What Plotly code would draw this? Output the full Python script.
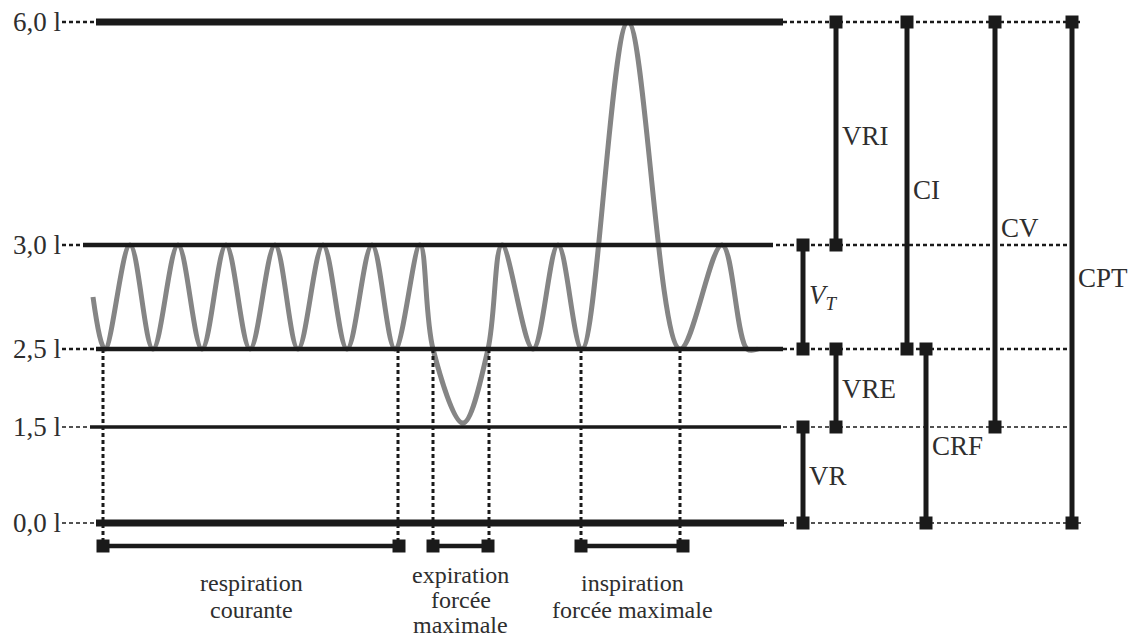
"""Spirogramme : volumes et capacités pulmonaires."""

import numpy as np
import plotly.graph_objects as go

# lung volume levels (litres) and their tick labels
LEVELS = [0.0, 1.5, 2.5, 3.0, 6.0]
LEVEL_LABELS = ["0,0 l", "1,5 l", "2,5 l", "3,0 l", "6,0 l"]
# the drawing is schematic, not to scale: drawn height of each level
LEVEL_DRAWN = [0, 96, 174, 278, 501]

# spirogram trace (time in arbitrary units, volume in l)
WAVE_T = [93, 105, 130, 153, 178, 202, 226, 250, 275, 298, 323, 347, 372, 395,
          420, 433, 463, 488, 502, 533, 558, 582, 628, 680, 722, 747, 758]
WAVE_V = [2.75, 2.5, 3.0, 2.5, 3.0, 2.5, 3.0, 2.5, 3.0, 2.5, 3.0, 2.5, 3.0, 2.5,
          3.0, 2.5, 1.55, 2.5, 3.0, 2.5, 3.0, 2.5, 6.0, 2.5, 3.0, 2.5, 2.5]

# manoeuvres marked under the trace
PHASES = ["respiration\ncourante", "expiration\nforcée\nmaximale",
          "inspiration\nforcée maximale"]
PHASE_START = [103, 433, 581]
PHASE_END = [399, 488, 683]
# times where the trace sits on 2,5 l (dotted guides)
GUIDE_T = [103, 398, 433, 489, 581, 680]

# volumes and capacities
MEASURES = ["VRI", "CI", "CV", "CPT", "<i>V<sub>T</sub></i>", "VRE", "VR", "CRF"]
MEASURE_LOW = [3.0, 2.5, 1.5, 0.0, 2.5, 1.5, 0.0, 0.0]
MEASURE_HIGH = [6.0, 6.0, 6.0, 6.0, 3.0, 2.5, 1.5, 2.5]

INK = "#1a1a1a"
GREY = "#858585"
TEXT = "#2e2e2e"
SERIF = "Liberation Serif, Times New Roman, serif"

# drawing extents of each level line: solid start, solid end, dashed end
LINE_SPAN = [(96, 784, 1082), (90, 781, 1072), (96, 783, 1070),
             (83, 773, 1070), (96, 783, 1080)]
LINE_WIDTH = [7, 3.5, 4.5, 4.5, 7]
DASH_WIDTH = [1.5, 1.5, 2.5, 2.5, 2.5]
BAR_X = [836, 907, 995, 1072, 803, 836, 803, 926]
LABEL_DY = [-2, -4, -3, -5, 0, -1, -1, -10]
BRACKET_Y = -23


def vpos(v):
    return np.interp(v, LEVELS, LEVEL_DRAWN)


fig = go.Figure()

# dashed leaders / extensions, then the grey trace, then solid level lines
for lvl, (a, b, c), dw in zip(LEVELS, LINE_SPAN, DASH_WIDTH):
    y = float(vpos(lvl))
    fig.add_trace(go.Scatter(
        x=[62, c], y=[y, y], mode="lines",
        line=dict(color=INK, width=dw, dash="4px,3px"),
    ))

fig.add_trace(go.Scatter(
    x=WAVE_T, y=vpos(WAVE_V), mode="lines",
    line=dict(color=GREY, width=5, shape="spline"),
))

for lvl, (a, b, c), w in zip(LEVELS, LINE_SPAN, LINE_WIDTH):
    y = float(vpos(lvl))
    fig.add_trace(go.Scatter(
        x=[a, b], y=[y, y], mode="lines", line=dict(color=INK, width=w),
    ))

# dotted guides down to the manoeuvre brackets
for t in GUIDE_T:
    fig.add_trace(go.Scatter(
        x=[t, t], y=[float(vpos(2.5)), BRACKET_Y], mode="lines",
        line=dict(color=INK, width=3, dash="4px,3px"),
    ))

for name, t0, t1 in zip(PHASES, PHASE_START, PHASE_END):
    fig.add_trace(go.Scatter(
        x=[t0, t1], y=[BRACKET_Y, BRACKET_Y], mode="lines+markers",
        line=dict(color=INK, width=4.5),
        marker=dict(symbol="square", size=13, color=INK),
    ))
    lines = name.split("\n")
    three = len(lines) == 3
    for i, txt in enumerate(lines):
        fig.add_annotation(
            x=(t0 + t1) / 2, y=BRACKET_Y - (29 if three else 37),
            yshift=-i * (25 if three else 27), text=txt, showarrow=False,
            font=dict(family=SERIF, size=24, color=TEXT),
        )

# volume / capacity bars
for name, lo, hi, bx, dy in zip(MEASURES, MEASURE_LOW, MEASURE_HIGH, BAR_X, LABEL_DY):
    y0, y1 = float(vpos(lo)), float(vpos(hi))
    fig.add_trace(go.Scatter(
        x=[bx, bx], y=[y0, y1], mode="lines+markers",
        line=dict(color=INK, width=5),
        marker=dict(symbol="square", size=13, color=INK),
    ))
    fig.add_annotation(
        x=bx, y=(y0 + y1) / 2, xanchor="left", xshift=4, yshift=dy,
        text=name, showarrow=False,
        font=dict(family=SERIF, size=27, color=TEXT),
    )

fig.update_layout(
    width=1132, height=637, template="none",
    paper_bgcolor="white", plot_bgcolor="white",
    showlegend=False,
    margin=dict(l=62, r=0, t=0, b=0),
    xaxis=dict(range=[62, 1132], visible=False, fixedrange=True),
    yaxis=dict(
        range=[-114, 523], tickvals=[float(v) for v in vpos(LEVELS)],
        ticktext=LEVEL_LABELS, showgrid=False, zeroline=False, showline=False,
        ticks="", automargin=False, fixedrange=True,
        tickfont=dict(family=SERIF, size=27, color=TEXT),
    ),
)

fig.write_html(
    "out.html", config={"displayModeBar": False},
    post_script="document.body.style.margin='0px';"
                "document.body.style.overflow='hidden';",
)
